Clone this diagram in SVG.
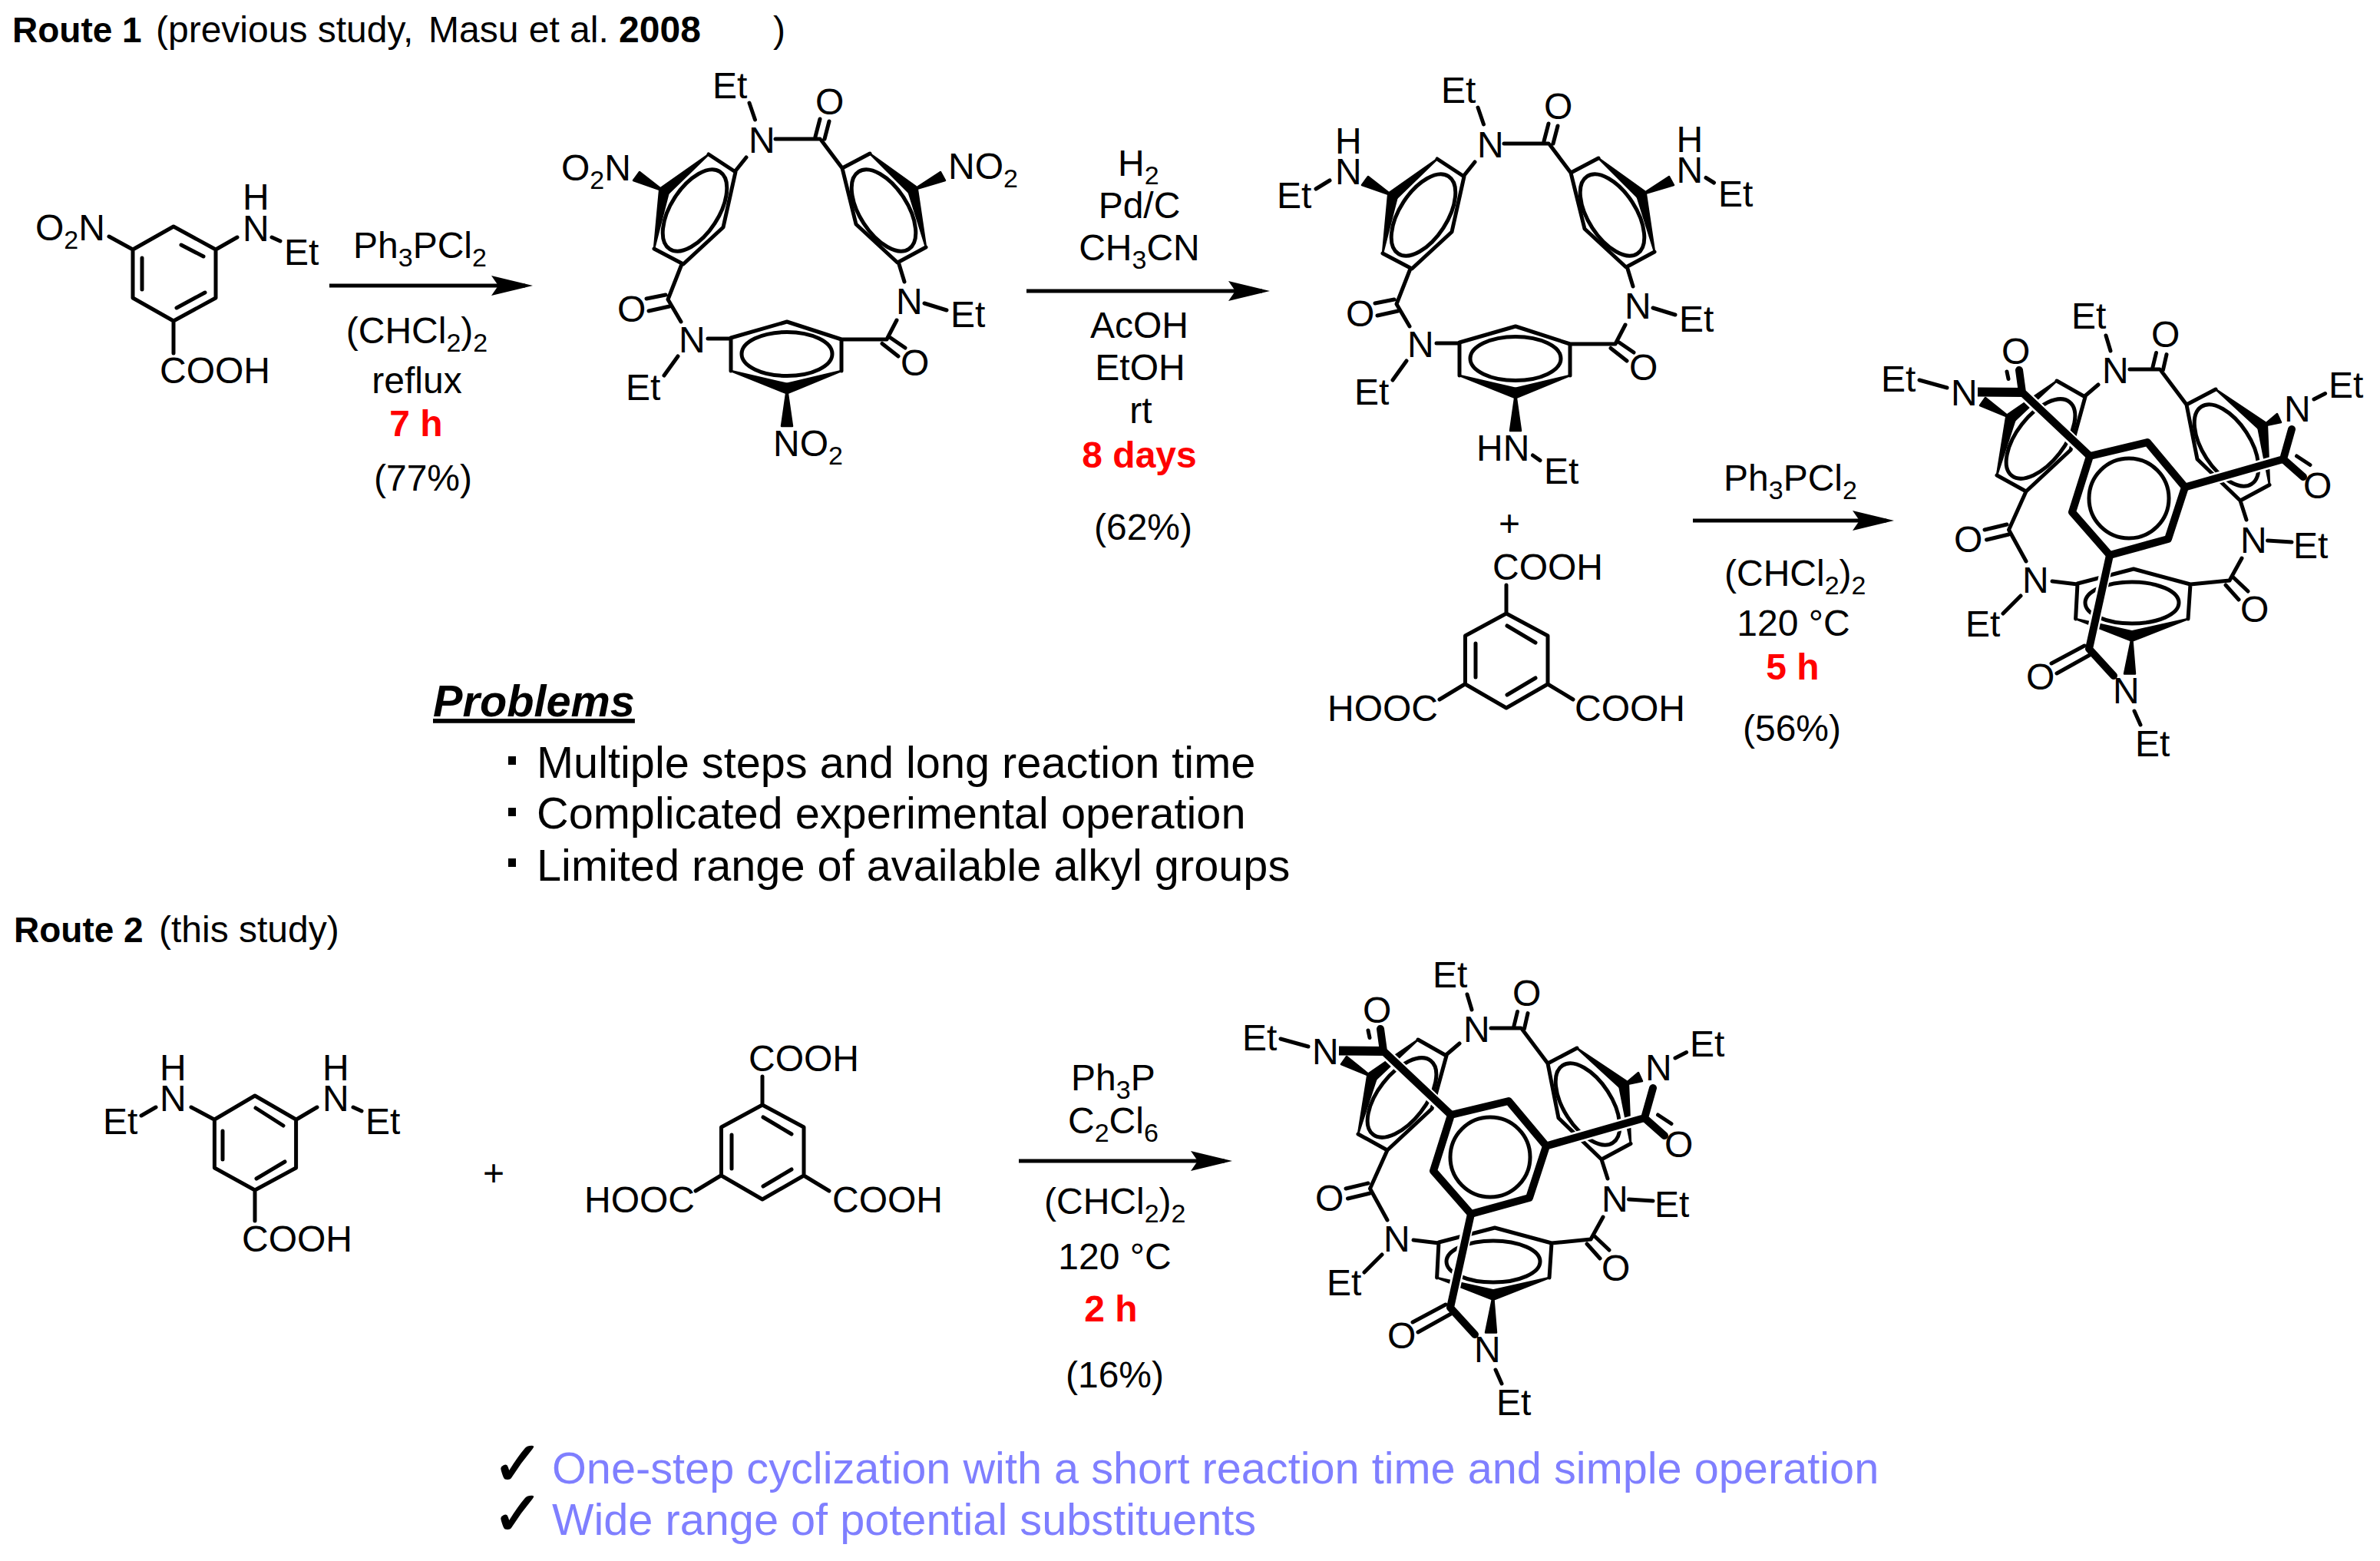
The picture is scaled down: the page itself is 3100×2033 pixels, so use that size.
<svg xmlns="http://www.w3.org/2000/svg" xmlns:xlink="http://www.w3.org/1999/xlink" width="3100" height="2033" viewBox="0 0 3100 2033">
<style>
text{font-family:"Liberation Sans",Arial,sans-serif;fill:#000}
.a{font-size:48px}
.r{font-size:48px}
.m{text-anchor:middle}
.s{font-size:34px}
.h{font-size:48px}
.hb{font-size:46px;font-weight:bold}
.b{font-weight:bold}
.red{font-size:48px;font-weight:bold;fill:#f00;text-anchor:middle}
.p{font-size:57.700px}
.g{font-size:57.700px;fill:#7f7fff}
.ck{font-family:"DejaVu Sans",sans-serif;font-size:80px;font-weight:bold;stroke:#000;stroke-width:1.500px}
.bd{fill:none;stroke:#000;stroke-width:5;stroke-linecap:round;stroke-linejoin:round}
.el{fill:none;stroke:#000;stroke-width:5}
.w{fill:#000;stroke:#000;stroke-width:2.500;stroke-linejoin:round}
.halo{fill:none;stroke:#fff;stroke-width:15;stroke-linecap:butt}
.fr{fill:none;stroke:#000;stroke-width:10;stroke-linecap:round;stroke-linejoin:round}
.fx{fill:none;stroke:#000;stroke-width:12}
.arrow{fill:none;stroke:#000;stroke-width:5;marker-end:url(#head)}
</style>
<defs>
<marker id="head" markerUnits="userSpaceOnUse" markerWidth="56" markerHeight="30" refX="44" refY="15" orient="auto">
<path d="M0 2L54 15L0 28L9 15Z" fill="#000"/>
</marker>
<g id="macro-skel">
<path class="bd" d="M976 134L983.500 156M1010 181L1068 181M1068 155L1062 178M1080 158L1074 181M1070 183L1097 219M972 205L958 222.500M923 201L958 224L942 296L890 344L852 324M1133 200L1097 219L1115 292L1169 342L1206 322M1171 344L1178 367M1204 395L1233 404M1168 417L1155 442L1095 442M1160 440L1179 453M1149 447.500L1170 464M1096 483L1096 442L1025 419L952 440L952 483M922 441L952 441M883 464L865 489M887 419L870 390L888 344M867 384L842 389M872 399L845 405"/>
<polygon class="w" points="852,324 870.900,250 859.100,248"/>
<polygon class="w" points="923,201 868.800,253.600 861.200,244.400"/>
<polygon class="w" points="865,249 825,235 833,224"/>
<polygon class="w" points="1133,200 1192.900,242.900 1185.100,252.100"/>
<polygon class="w" points="1206,322 1194.800,246.200 1183.200,248.800"/>
<polygon class="w" points="1189,247.500 1225,224 1231,235"/>
<polygon class="w" points="952,483 1023.200,511.700 1026.800,500.300"/>
<polygon class="w" points="1096,483 1026.800,511.700 1023.200,500.300"/>
<polygon class="w" points="1025,506 1018,555 1032,555"/>
<ellipse class="el" cx="905" cy="274" rx="60" ry="31" transform="rotate(-57 905 274)"/>
<ellipse class="el" cx="1151" cy="274" rx="60" ry="31" transform="rotate(57 1151 274)"/>
<ellipse class="el" cx="1025" cy="461" rx="59" ry="28.500"/>
</g>
<g id="cage-skel">
<path class="bd" d="M2743 437L2749 457M2774 481L2813 481M2808.500 459.500L2804 478M2822 461.600L2817.400 482M2815 483L2848 527M2733 501L2716 515.500M2716 517L2679 496M2716 517L2697 586L2639 640L2601 619M2886 507L2848 527L2862 598L2918 652L2956 631.500M2918 652L2926 677M3014 520L3028.600 512.600M2953.600 704L2985 706M2920 727L2904 756L2853 761M2909 752L2928 770M2899 762L2916 781M2850 806L2853 761L2779 741L2706 760L2703.600 806M2673 757L2706 761M2632 776L2609 799M2639 731L2616.500 690L2639 640M2614 683L2585 690M2616.500 696L2587.500 703M2780 926L2788 944M2500 495L2536 505M2614 484L2616 493.500"/>
<polygon class="w" points="2601,619 2624.800,546 2613.200,543"/>
<polygon class="w" points="2679,496 2622.800,549.200 2615.200,539.800"/>
<polygon class="w" points="2619,544.500 2579,528 2586,518"/>
<polygon class="w" points="2886,507 2950.700,550.300 2943.300,559.700"/>
<polygon class="w" points="2956,631.500 2952.900,554.300 2941.100,555.700"/>
<polygon class="w" points="2947,555 2966,539 2971,550"/>
<polygon class="w" points="2703.600,806 2775.300,834.200 2778.700,822.800"/>
<polygon class="w" points="2850,806 2778.700,834.200 2775.300,822.800"/>
<polygon class="w" points="2777,828.500 2767,877.500 2781,877.500"/>
<ellipse class="el" cx="2658" cy="571.500" rx="61" ry="31" transform="rotate(-52 2658 571.500)"/>
<ellipse class="el" cx="2900" cy="580" rx="60" ry="31" transform="rotate(57 2900 580)"/>
<ellipse class="el" cx="2777" cy="785" rx="61" ry="27"/>
<path class="halo" d="M2640 517L2721 594M2846 634.500L2974 598M2747 723L2721 845"/>
<path class="fr" d="M2722 594L2797 576L2846 634.500L2824 702L2748 723L2699 667Z"/>
<circle class="el" cx="2773" cy="649" r="52"/>
<path class="fr" d="M2722 594L2634 511M2630 482L2634 511M2846 634.500L2974 598L3000 621M2974 598L2985 559M2748 723L2721 845L2753 880"/>
<path class="fx" d="M2576 510.500L2636 511"/>
<path class="bd" d="M2991.500 594L3009 605.500M2715 841L2672 864M2722 853L2679 877"/>
</g>
<g id="tri-skel">
<path class="bd" d="M1962 762L1962 799L2016 828L2016 891L1962 922L1908.500 891L1908.500 828L1962 799M1963 815L2000 837M1922 838L1922 882M1963 905L2000 883M1908 891L1875 911M2016 891L2049 911"/>
</g>
</defs>
<rect width="3100" height="2033" fill="#fff"/>

<g id="route1-label">
<text class="hb" x="16" y="55">Route 1</text>
<text class="h" x="203" y="55">(previous study,</text>
<text class="h" x="558" y="55">Masu et al. <tspan class="b">2008</tspan></text>
<text class="h" x="1007" y="55">)</text>
</g>

<g id="nitro-acid">
<path class="bd" d="M226 295L281 325L281 388L226 418L173 388L173 325ZM236 319L265 334M185 336L185 377M230 401L267 381M226 418L226 460M142 308L173 325M281 325L309 309M354 309L365 314"/>
<text class="a" x="46" y="313">O<tspan class="s" dy="11">2</tspan><tspan dy="-11">N</tspan></text>
<text class="a"><tspan x="316" y="273">H</tspan><tspan x="316" y="314">N</tspan></text>
<text class="a" x="370" y="345">Et</text>
<text class="a" x="208" y="499">COOH</text>
</g>

<g id="reagents-1">
<text class="r m" x="547" y="336">Ph<tspan class="s" dy="11">3</tspan><tspan dy="-11">PCl</tspan><tspan class="s" dy="11">2</tspan></text>
<text class="r m" x="543" y="447">(CHCl<tspan class="s" dy="11">2</tspan><tspan dy="-11">)</tspan><tspan class="s" dy="11">2</tspan></text>
<text class="r m" x="543" y="512">reflux</text>
<text class="red" x="542" y="568">7 h</text>
<text class="r m" x="551" y="639">(77%)</text>
</g>

<g id="macrocycle-nitro">
<use href="#macro-skel" xlink:href="#macro-skel"/>
<text class="a" x="928" y="128">Et</text>
<text class="a" x="1062" y="149">O</text>
<text class="a" x="975" y="199">N</text>
<text class="a" x="731" y="235">O<tspan class="s" dy="11">2</tspan><tspan dy="-11">N</tspan></text>
<text class="a" x="1235" y="233">NO<tspan class="s" dy="11">2</tspan></text>
<text class="a" x="1167" y="409">N</text>
<text class="a" x="1238" y="426">Et</text>
<text class="a" x="1173" y="489">O</text>
<text class="a" x="1007" y="594">NO<tspan class="s" dy="11">2</tspan></text>
<text class="a" x="884" y="459">N</text>
<text class="a" x="815" y="521">Et</text>
<text class="a" x="804" y="419">O</text>
</g>

<g id="reagents-2">
<text class="r" x="1456" y="228.500">H<tspan class="s" dy="11">2</tspan></text>
<text class="r m" x="1484" y="284">Pd/C</text>
<text class="r m" x="1484" y="339">CH<tspan class="s" dy="11">3</tspan><tspan dy="-11">CN</tspan></text>
<text class="r m" x="1484" y="440">AcOH</text>
<text class="r m" x="1485" y="495">EtOH</text>
<text class="r m" x="1486" y="550.500">rt</text>
<text class="red" x="1484" y="609">8 days</text>
<text class="r m" x="1489" y="703">(62%)</text>
</g>

<g id="macrocycle-amine">
<use href="#macro-skel" xlink:href="#macro-skel" transform="translate(949 6)"/>
<path class="bd" d="M1714 246L1732 235M2222 231.500L2232.500 238M1996.500 593L2006 599.600"/>
<text class="a" x="1877" y="134">Et</text>
<text class="a" x="2011" y="155">O</text>
<text class="a" x="1924" y="205">N</text>
<text class="a" x="2116" y="415">N</text>
<text class="a" x="2187" y="432">Et</text>
<text class="a" x="2122" y="495">O</text>
<text class="a" x="1833" y="465">N</text>
<text class="a" x="1764" y="527">Et</text>
<text class="a" x="1753" y="425">O</text>
<text class="a"><tspan x="1739" y="200">H</tspan><tspan x="1739" y="240">N</tspan></text>
<text class="a" x="1663" y="270.500">Et</text>
<text class="a"><tspan x="2183.500" y="198">H</tspan><tspan x="2183.500" y="238">N</tspan></text>
<text class="a" x="2238" y="268.600">Et</text>
<text class="a" x="1923" y="600">HN</text>
<text class="a" x="2011" y="630">Et</text>
</g>

<g id="plus-1"><text class="a m" x="1966" y="698">+</text></g>

<g id="triacid-1">
<use href="#tri-skel" xlink:href="#tri-skel"/>
<text class="a" x="1944" y="755">COOH</text>
<text class="a" x="1729" y="939">HOOC</text>
<text class="a" x="2051" y="939">COOH</text>
</g>

<g id="reagents-3">
<text class="r" x="2245" y="639">Ph<tspan class="s" dy="11">3</tspan><tspan dy="-11">PCl</tspan><tspan class="s" dy="11">2</tspan></text>
<text class="r" x="2246" y="763">(CHCl<tspan class="s" dy="11">2</tspan><tspan dy="-11">)</tspan><tspan class="s" dy="11">2</tspan></text>
<text class="r m" x="2336" y="828">120 °C</text>
<text class="red" x="2335" y="885">5 h</text>
<text class="r m" x="2334" y="965">(56%)</text>
</g>

<g id="cage-1">
<use href="#cage-skel" xlink:href="#cage-skel"/>
<text class="a" x="2698" y="428">Et</text>
<text class="a" x="2802" y="452">O</text>
<text class="a" x="2738" y="499">N</text>
<text class="a" x="2541" y="528">N</text>
<text class="a" x="2450" y="510">Et</text>
<text class="a" x="2607" y="474">O</text>
<text class="a" x="2975" y="549">N</text>
<text class="a" x="3033" y="517.600">Et</text>
<text class="a" x="3000" y="649">O</text>
<text class="a" x="2918" y="720">N</text>
<text class="a" x="2987" y="727">Et</text>
<text class="a" x="2918" y="810">O</text>
<text class="a" x="2752" y="916">N</text>
<text class="a" x="2781" y="985">Et</text>
<text class="a" x="2639" y="898">O</text>
<text class="a" x="2634" y="772">N</text>
<text class="a" x="2560" y="828.500">Et</text>
<text class="a" x="2545" y="719">O</text>
</g>

<g id="problems">
<text class="p b" x="564" y="933" font-style="italic" text-decoration="underline">Problems</text>
<rect x="662" y="985" width="10" height="11"/>
<rect x="662" y="1052" width="10" height="11"/>
<rect x="662" y="1118" width="10" height="11"/>
<text class="p" x="699" y="1013">Multiple steps and long reaction time</text>
<text class="p" x="699" y="1079">Complicated experimental operation</text>
<text class="p" x="699" y="1147">Limited range of available alkyl groups</text>
</g>

<g id="route2-label">
<text class="hb" x="18" y="1227">Route 2</text>
<text class="h" x="207" y="1227">(this study)</text>
</g>

<g id="diamino-acid">
<path class="bd" d="M332 1427L385.600 1458L385.600 1521L332 1550L279.400 1521L279.400 1458ZM333 1443L369 1466M290 1473L290 1510M334 1535L371 1513M332 1550L332 1590M203 1442L184 1453M249 1442L279 1458M460 1442L471 1447M413 1442L386 1458"/>
<text class="a"><tspan x="208" y="1407">H</tspan><tspan x="208" y="1447">N</tspan></text>
<text class="a" x="134" y="1477">Et</text>
<text class="a"><tspan x="420" y="1407">H</tspan><tspan x="420" y="1447">N</tspan></text>
<text class="a" x="476" y="1477">Et</text>
<text class="a" x="315" y="1630">COOH</text>
</g>

<g id="plus-2"><text class="a m" x="643" y="1544">+</text></g>

<g id="triacid-2">
<use href="#tri-skel" xlink:href="#tri-skel" transform="translate(-969 640)"/>
<text class="a" x="975" y="1395">COOH</text>
<text class="a" x="761" y="1579">HOOC</text>
<text class="a" x="1084" y="1579">COOH</text>
</g>

<g id="reagents-4">
<text class="r" x="1395" y="1420">Ph<tspan class="s" dy="11">3</tspan><tspan dy="-11">P</tspan></text>
<text class="r" x="1391" y="1476">C<tspan class="s" dy="11">2</tspan><tspan dy="-11">Cl</tspan><tspan class="s" dy="11">6</tspan></text>
<text class="r" x="1360" y="1581">(CHCl<tspan class="s" dy="11">2</tspan><tspan dy="-11">)</tspan><tspan class="s" dy="11">2</tspan></text>
<text class="r m" x="1452" y="1653">120 °C</text>
<text class="red" x="1447" y="1721">2 h</text>
<text class="r m" x="1452" y="1807">(16%)</text>
</g>

<g id="cage-2">
<use href="#cage-skel" xlink:href="#cage-skel" transform="translate(-832 858)"/>
<text class="a" x="1866" y="1286">Et</text>
<text class="a" x="1970" y="1310">O</text>
<text class="a" x="1906" y="1357">N</text>
<text class="a" x="1709" y="1386">N</text>
<text class="a" x="1618" y="1368">Et</text>
<text class="a" x="1775" y="1332">O</text>
<text class="a" x="2143" y="1407">N</text>
<text class="a" x="2201" y="1375.600">Et</text>
<text class="a" x="2168" y="1507">O</text>
<text class="a" x="2086" y="1578">N</text>
<text class="a" x="2155" y="1585">Et</text>
<text class="a" x="2086" y="1668">O</text>
<text class="a" x="1920" y="1774">N</text>
<text class="a" x="1949" y="1843">Et</text>
<text class="a" x="1807" y="1756">O</text>
<text class="a" x="1802" y="1630">N</text>
<text class="a" x="1728" y="1686.500">Et</text>
<text class="a" x="1713" y="1577">O</text>
</g>

<g id="advantages">
<text class="ck"><tspan x="641" y="1934">✓</tspan><tspan x="641" y="1999">✓</tspan></text>
<text class="g" x="719" y="1932">One-step cyclization with a short reaction time and simple operation</text>
<text class="g" x="719" y="1999">Wide range of potential substituents</text>
</g>

<g id="connectors">
<line class="arrow" x1="429" y1="372" x2="684" y2="372"/>
<line class="arrow" x1="1337" y1="379" x2="1644" y2="379"/>
<line class="arrow" x1="2205" y1="678" x2="2457" y2="678"/>
<line class="arrow" x1="1327" y1="1512" x2="1595" y2="1512"/>
</g>
</svg>
